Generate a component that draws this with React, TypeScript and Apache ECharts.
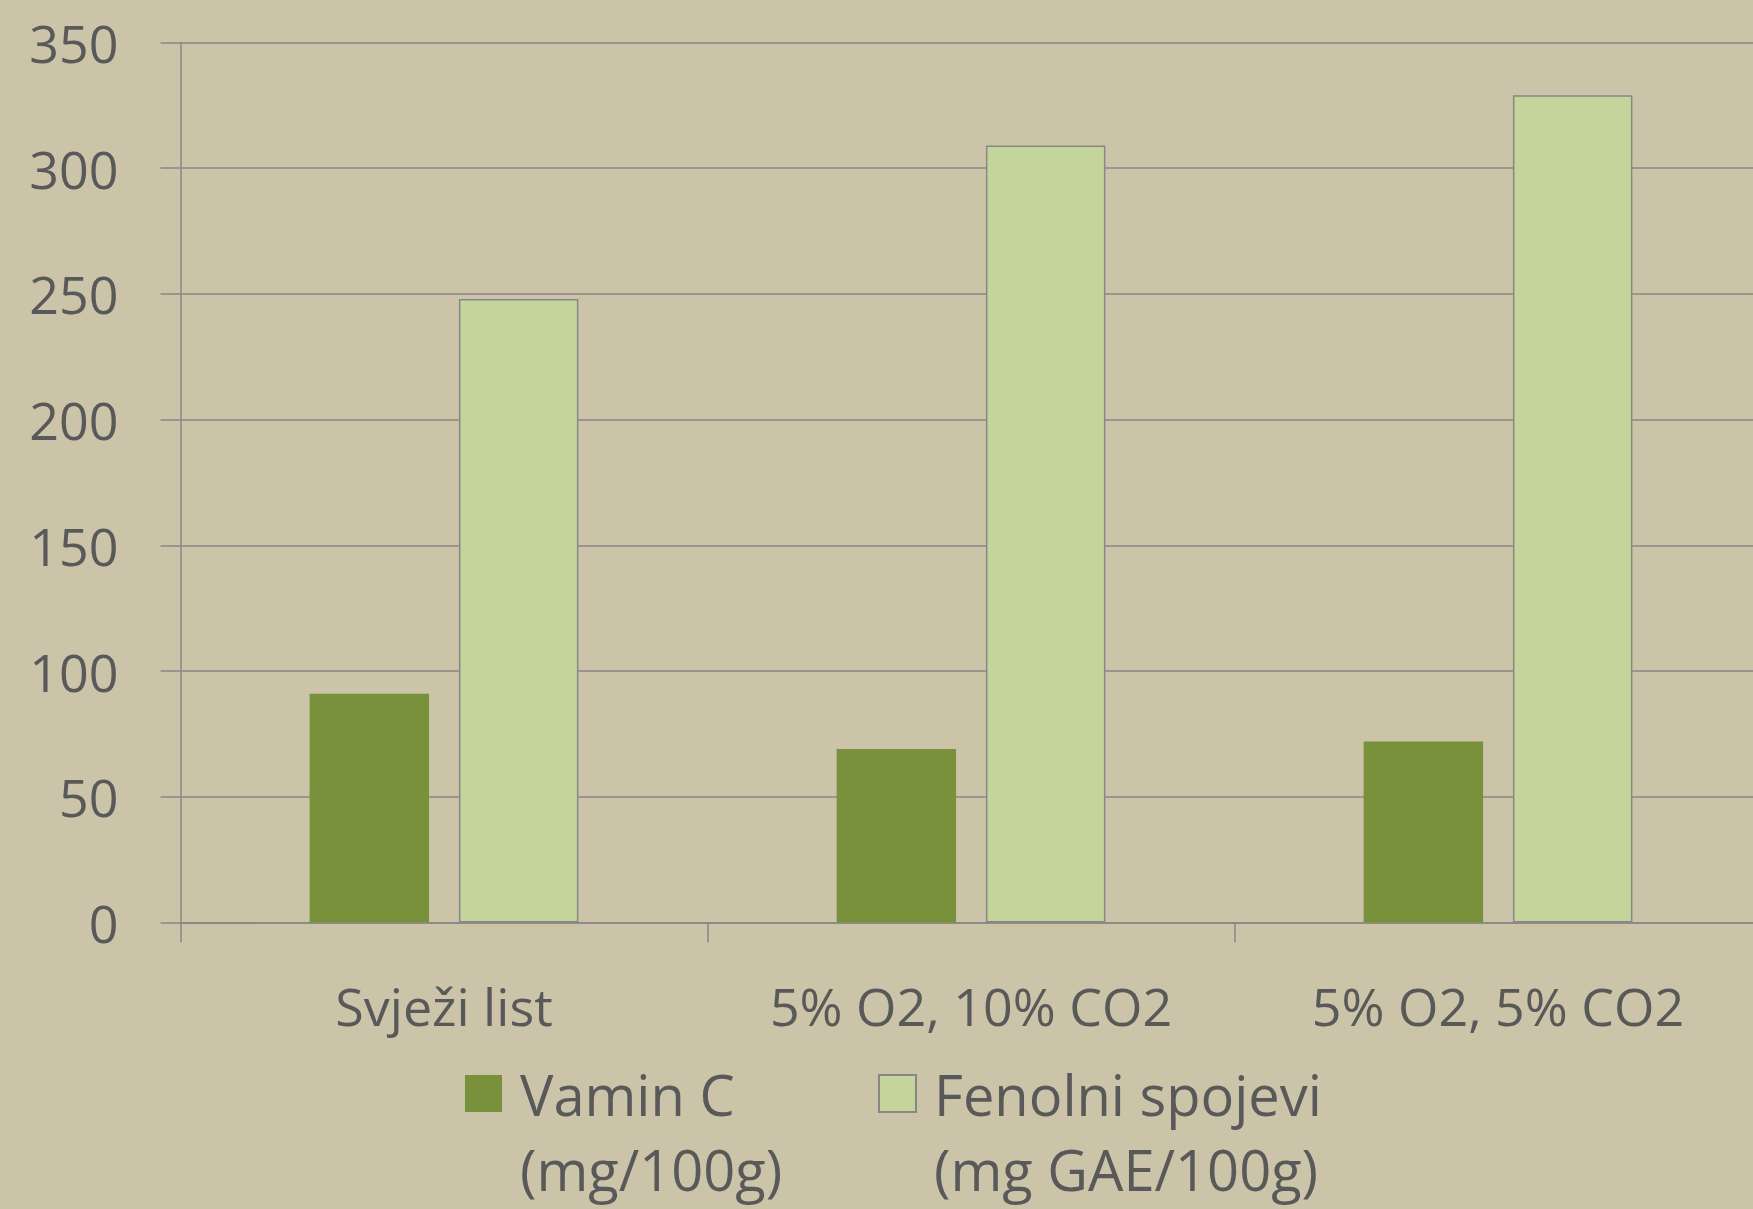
import React, { useEffect, useRef } from "react";
import * as echarts from "echarts";

const categories = ["Svježi list", "5% O2, 10% CO2", "5% O2, 5% CO2"];
const vitaminC = [91, 69, 72];
const fenolni = [248, 309, 329];
const seriesNames = ["Vamin C\n(mg/100g)", "Fenolni spojevi\n(mg GAE/100g)"];
const yTicks = { min: 0, max: 350, interval: 50 };

const FONT = "'Open Sans', 'Noto Sans', sans-serif";
const TEXT = "#595959";
const LINE = "#878787";

export default function App() {
  const ref = useRef<HTMLDivElement>(null);
  useEffect(() => {
    document.body.style.margin = "0";
    document.body.style.overflow = "hidden";
    if (!ref.current) return;
    const chart = echarts.init(ref.current, null, { renderer: "svg" });
    const legendText = {
      fontFamily: FONT,
      fontSize: 56,
      color: TEXT,
      lineHeight: 75,
      padding: [0, 0, 0, 13],
    };
    const legendCommon = {
      top: 981,
      padding: 0,
      icon: "rect",
      itemWidth: 37,
      itemHeight: 37,
      selectedMode: false,
      formatter: (name: string) => "\n" + name,
      textStyle: legendText,
    };
    chart.setOption({
      animation: false,
      backgroundColor: "#CBC4A8",
      textStyle: { fontFamily: FONT },
      grid: {
        left: 180.5,
        top: 42.5,
        width: 1581,
        height: 880,
        containLabel: false,
        outerBoundsMode: "none",
      },
      legend: [
        { ...legendCommon, data: [seriesNames[0]], left: 465 },
        { ...legendCommon, data: [seriesNames[1]], left: 878 },
      ],
      xAxis: {
        type: "category",
        data: categories,
        axisLine: { show: true, lineStyle: { color: LINE, width: 1.5 } },
        axisTick: { show: true, length: 20, lineStyle: { color: LINE, width: 1.5 } },
        axisLabel: { fontFamily: FONT, fontSize: 52, color: TEXT, margin: 57 },
        splitLine: { show: false },
      },
      yAxis: {
        type: "value",
        min: yTicks.min,
        max: yTicks.max,
        interval: yTicks.interval,
        axisLine: { show: true, lineStyle: { color: LINE, width: 1.5 } },
        axisTick: { show: true, length: 20, lineStyle: { color: LINE, width: 1.5 } },
        axisLabel: { fontFamily: FONT, fontSize: 52, color: TEXT, margin: 62 },
        splitLine: { show: true, lineStyle: { color: LINE, width: 1.5 } },
      },
      series: [
        {
          name: seriesNames[0],
          type: "bar",
          data: vitaminC,
          barGap: "25%",
          barCategoryGap: "49%",
          itemStyle: { color: "#78913A" },
        },
        {
          name: seriesNames[1],
          type: "bar",
          data: fenolni,
          itemStyle: { color: "#C4D59B", borderColor: LINE, borderWidth: 1.5 },
        },
      ],
    });
    return () => chart.dispose();
  }, []);
  return (
    <div
      ref={ref}
      style={{ position: "absolute", left: 0, top: 0, width: 1753, height: 1209 }}
    />
  );
}
